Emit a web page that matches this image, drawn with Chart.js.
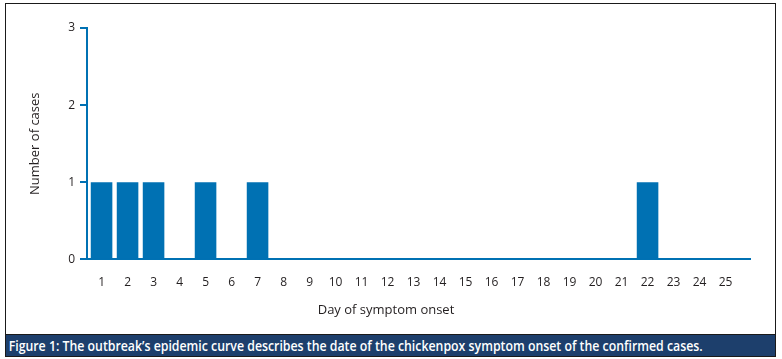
<!DOCTYPE html>
<html>
<head>
<meta charset="utf-8">
<script src="https://cdn.jsdelivr.net/npm/chart.js@4.4.0/dist/chart.umd.min.js"></script>
<style>
  body { margin: 0; background: #fff; width: 782px; height: 359px; overflow: hidden; position: relative; }
  #frame { position: absolute; left: 5px; top: 3px; width: 771px; height: 354px; box-sizing: border-box; border: 1px solid #1a1a1a; }
  #wrap { position: absolute; left: 0; top: 0; width: 769px; height: 330px; }
  #caption {
    position: absolute; left: -1px; top: 330px; width: 771px; height: 23px; box-sizing: border-box;
    border: 1px solid #1a1a1a; background: #1d3f6c; color: #fff;
    font: 600 14px "Open Sans", sans-serif; line-height: 21px; white-space: nowrap; overflow: hidden;
  }
  #caption span { display: inline-block; transform-origin: 0 50%; padding-left: 3px; }
</style>
</head>
<body>
<div id="frame">
  <div id="wrap"><canvas id="chart"></canvas></div>
  <div id="caption"><span id="capText">Figure 1: The outbreak’s epidemic curve describes the date of the chickenpox symptom onset of the confirmed cases.</span></div>
</div>
<script>
// data
const days = [1, 2, 3, 4, 5, 6, 7, 8, 9, 10, 11, 12, 13, 14, 15, 16, 17, 18, 19, 20, 21, 22, 23, 24, 25];
const cases = [1, 1, 1, 0, 1, 0, 1, 0, 0, 0, 0, 0, 0, 0, 0, 0, 0, 0, 0, 0, 0, 1, 0, 0, 0];
const yTicks = [0, 1, 2, 3];

const blue = '#0071b3';
const ink = '#231f20';

// squeeze caption to the width of the original (condensed face)
const cap = document.getElementById('capText');
const w = cap.getBoundingClientRect().width - 3;
cap.style.transform = 'scaleX(' + (694 / w) + ')';

new Chart(document.getElementById('chart'), {
  type: 'bar',
  data: {
    datasets: [{
      data: days.map((d, i) => ({ x: d, y: cases[i] })),
      backgroundColor: blue,
      borderWidth: 0,
      categoryPercentage: 1,
      barPercentage: 0.83,
    }]
  },
  options: {
    responsive: true,
    maintainAspectRatio: false,
    animation: false,
    layout: { padding: { top: 24, left: 16, right: 25, bottom: 12 } },
    plugins: {
      legend: { display: false },
      tooltip: { enabled: false },
      title: {
        display: true,
        position: 'bottom',
        text: 'Day of symptom onset',
        color: ink,
        font: { family: 'Open Sans', size: 13, weight: 'normal' },
        padding: { top: 4, bottom: 4 },
      },
    },
    scales: {
      x: {
        type: 'linear',
        offset: false,
        bounds: 'data',
        min: 0.44,
        max: 25.94,
        afterBuildTicks: (scale) => { scale.ticks = days.map(d => ({ value: d })); },
        afterFit: (scale) => { scale.height = 39; },
        grid: { display: false, drawTicks: false },
        border: { display: true, color: blue, width: 2 },
        ticks: {
          autoSkip: false,
          maxRotation: 0,
          padding: 16,
          color: ink,
          font: { family: 'Open Sans', size: 12 },
        },
      },
      y: {
        min: 0,
        max: 3,
        afterBuildTicks: (scale) => { scale.ticks = yTicks.map(v => ({ value: v })); },
        afterFit: (scale) => { scale.width = 65; },
        grid: { drawOnChartArea: false, drawTicks: true, tickLength: 7, color: blue, lineWidth: 2 },
        border: { display: true, color: blue, width: 2 },
        ticks: {
          padding: 5,
          color: ink,
          font: { family: 'Open Sans', size: 12 },
        },
        title: {
          display: true,
          text: 'Number of cases',
          color: ink,
          font: { family: 'Open Sans', size: 13 },
          padding: { top: 5, bottom: 0 },
        },
      },
    },
  },
});
</script>
</body>
</html>
